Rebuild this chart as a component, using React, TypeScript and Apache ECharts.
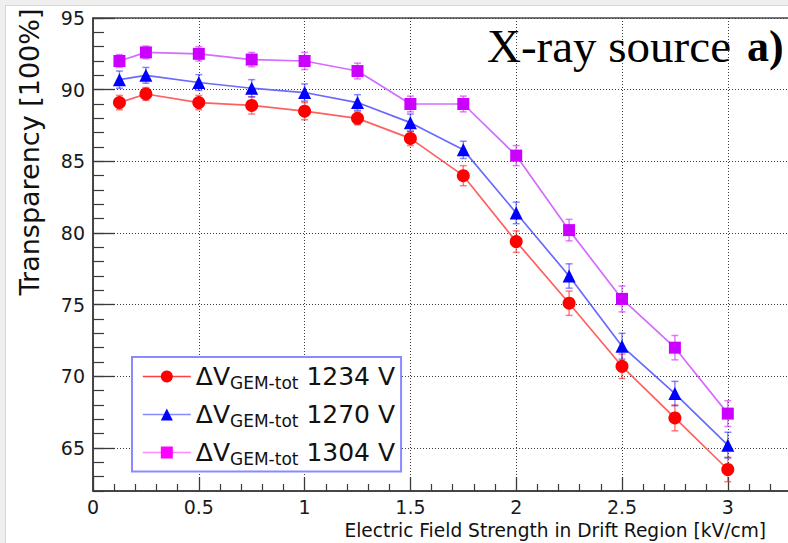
import React, { useEffect, useRef } from 'react';
import * as echarts from 'echarts';

// ---- data ----
const fieldKV = [0.125, 0.25, 0.5, 0.75, 1.0, 1.25, 1.5, 1.75, 2.0, 2.25, 2.5, 2.75, 3.0];
const voltages = ['1234 V', '1270 V', '1304 V'];
const trans1234 = [89.1, 89.7, 89.1, 88.9, 88.5, 88.0, 86.6, 84.0, 79.4, 75.1, 70.7, 67.1, 63.5];
const err1234 = [0.5, 0.45, 0.5, 0.6, 0.6, 0.45, 0.5, 0.7, 0.75, 0.85, 0.85, 0.9, 0.85];
const trans1270 = [90.7, 91.0, 90.5, 90.1, 89.8, 89.1, 87.7, 85.8, 81.4, 77.0, 72.1, 68.8, 65.2];
const err1270 = [0.6, 0.55, 0.55, 0.6, 0.6, 0.55, 0.6, 0.6, 0.75, 0.85, 0.9, 0.85, 0.9];
const trans1304 = [92.0, 92.6, 92.5, 92.1, 92.0, 91.3, 89.0, 89.0, 85.4, 80.2, 75.4, 72.0, 67.4];
const err1304 = [0.45, 0.45, 0.5, 0.5, 0.6, 0.55, 0.55, 0.55, 0.7, 0.75, 0.9, 0.85, 0.9];

const xTitle = 'Electric Field Strength in Drift Region [kV/cm]';
const yTitle = 'Transparency [100%]';
const sourceText = 'X-ray source';
const panelText = 'a)';

const SANS = '"DejaVu Sans", sans-serif';

const seriesDefs = [
  { name: voltages[0], y: trans1234, e: err1234, symbol: 'circle', size: 13, marker: '#ff0000', line: '#ff6060', err: 'rgba(255,40,40,0.6)', legendMarker: '#ff0000', legendLine: '#ff4040' },
  { name: voltages[1], y: trans1270, e: err1270, symbol: 'triangle', size: 13, marker: '#0000ff', line: '#6a6aff', err: 'rgba(40,40,255,0.55)', legendMarker: '#0000ff', legendLine: '#8a8aff' },
  { name: voltages[2], y: trans1304, e: err1304, symbol: 'rect', size: 12, marker: '#cc00ff', line: '#d36cff', err: 'rgba(210,40,255,0.6)', legendMarker: '#ff00ff', legendLine: '#ff8aff' },
];

export default function App() {
  const ref = useRef<HTMLDivElement>(null);
  useEffect(() => {
    if (!ref.current) return;
    const chart = echarts.init(ref.current, null, { renderer: 'svg' });

    const lineSeries = seriesDefs.map((s, i) => ({
      type: 'line',
      name: s.name,
      data: fieldKV.map((x, k) => [x, s.y[k]]),
      symbol: s.symbol,
      symbolSize: s.size,
      itemStyle: { color: s.marker },
      lineStyle: { color: s.line, width: 1.7 },
      z: 5 + i,
      silent: true,
    }));

    const errSeries = seriesDefs.map((s, i) => ({
      type: 'custom',
      name: s.name + ' err',
      data: fieldKV.map((x, k) => [x, s.y[k], s.e[k]]),
      encode: { x: 0, y: 1 },
      z: 3 + i,
      silent: true,
      renderItem: (params: any, api: any) => {
        const x = api.value(0);
        const y = api.value(1);
        const e = api.value(2);
        const p1 = api.coord([x, y + e]);
        const p2 = api.coord([x, y - e]);
        const c = 3.5;
        const style = { stroke: s.err, lineWidth: 1.5 };
        return {
          type: 'group',
          children: [
            { type: 'line', shape: { x1: p1[0], y1: p1[1], x2: p2[0], y2: p2[1] }, style },
            { type: 'line', shape: { x1: p1[0] - c, y1: p1[1], x2: p1[0] + c, y2: p1[1] }, style },
            { type: 'line', shape: { x1: p2[0] - c, y1: p2[1], x2: p2[0] + c, y2: p2[1] }, style },
          ],
        };
      },
    }));

    const option: any = {
      animation: false,
      backgroundColor: '#ffffff',
      grid: {
        left: 93,
        top: 18,
        bottom: 52,
        right: -45.6,
        containLabel: false,
        outerBoundsMode: 'none',
        show: true,
        borderColor: '#4a4a4a',
        borderWidth: 1.5,
        backgroundColor: '#ffffff',
      },
      xAxis: {
        type: 'value',
        min: 0,
        max: 3.5,
        interval: 0.5,
        axisLine: { onZero: false, lineStyle: { color: '#3a3a3a', width: 1.5 } },
        axisTick: { inside: true, length: 14, lineStyle: { color: '#3a3a3a', width: 1.3 } },
        minorTick: { show: true, splitNumber: 5, length: 7, lineStyle: { color: '#3a3a3a', width: 1.2 } },
        axisLabel: { margin: 6, fontFamily: SANS, fontSize: 19, color: '#1a1a1a', showMaxLabel: false },
        splitLine: { show: true, lineStyle: { type: [1, 2], color: '#3a3a3a', width: 1 } },
      },
      yAxis: [
        {
          type: 'value',
          position: 'left',
          min: 62,
          max: 95,
          splitNumber: 7,
          axisLine: { onZero: false, lineStyle: { color: '#3a3a3a', width: 1.5 } },
          axisTick: { inside: true, length: 22, lineStyle: { color: '#3a3a3a', width: 1.3 } },
          axisLabel: { margin: 8, fontFamily: SANS, fontSize: 19, color: '#1a1a1a', showMinLabel: false },
          splitLine: { show: true, lineStyle: { type: [1, 2], color: '#3a3a3a', width: 1 } },
        },
        {
          type: 'value',
          position: 'left',
          min: 62,
          max: 95,
          interval: 1,
          axisLine: { show: false, onZero: false },
          axisTick: { inside: true, length: 11, lineStyle: { color: '#3a3a3a', width: 1.2 } },
          axisLabel: { show: false },
          splitLine: { show: false },
        },
      ],
      legend: {
        orient: 'vertical',
        left: 132,
        top: 357,
        padding: [7, 6, 4, 10],
        itemGap: 10.5,
        itemWidth: 48,
        itemHeight: 15,
        selectedMode: false,
        backgroundColor: '#ffffff',
        borderColor: '#8a8aff',
        borderWidth: 2,
        borderRadius: 0,
        data: seriesDefs.map((s) => ({
          name: s.name,
          itemStyle: { color: s.legendMarker },
          lineStyle: { color: s.legendLine, width: 1.6 },
        })),
        formatter: (name: string) => `{d|ΔV}{s|GEM-tot}{d| ${name}}`,
        textStyle: {
          fontFamily: SANS,
          color: '#111',
          rich: {
            d: { fontFamily: SANS, fontSize: 25, lineHeight: 30, color: '#111' },
            s: { fontFamily: SANS, fontSize: 17, lineHeight: 8, verticalAlign: 'bottom', color: '#111' },
          },
        },
      },
      graphic: [
        { type: 'rect', shape: { x: 0, y: 0, width: 5.5, height: 543 }, style: { fill: '#efefef' }, z: 200 },
        { type: 'rect', shape: { x: 0, y: 0, width: 788, height: 5 }, style: { fill: '#efefef' }, z: 200 },
        { type: 'line', shape: { x1: 5.5, y1: 5, x2: 5.5, y2: 543 }, style: { stroke: '#d6d6d6', lineWidth: 1 }, z: 201 },
        { type: 'line', shape: { x1: 5.5, y1: 5.5, x2: 788, y2: 5.5 }, style: { stroke: '#d6d6d6', lineWidth: 1 }, z: 201 },
        {
          type: 'text', x: 731, y: 46, z: 100,
          style: { text: sourceText, font: '47px "Liberation Serif", serif', fill: '#000', align: 'right', verticalAlign: 'middle' },
        },
        {
          type: 'text', x: 747, y: 46, z: 100,
          style: { text: panelText, font: 'bold 44px "Liberation Serif", serif', fill: '#000', align: 'left', verticalAlign: 'middle' },
        },
        {
          type: 'text', x: 29, y: 152, rotation: Math.PI / 2, z: 100,
          style: { text: yTitle, font: '27px ' + SANS, fill: '#111', align: 'center', verticalAlign: 'middle' },
        },
        {
          type: 'text', x: 766, y: 530, z: 100,
          style: { text: xTitle, font: '18.6px ' + SANS, fill: '#111', align: 'right', verticalAlign: 'middle' },
        },
      ],
      series: [...errSeries, ...lineSeries],
    };

    chart.setOption(option);
    return () => chart.dispose();
  }, []);

  return (
    <div
      ref={ref}
      style={{ position: 'fixed', left: 0, top: 0, width: 788, height: 543, background: '#fff' }}
    />
  );
}
